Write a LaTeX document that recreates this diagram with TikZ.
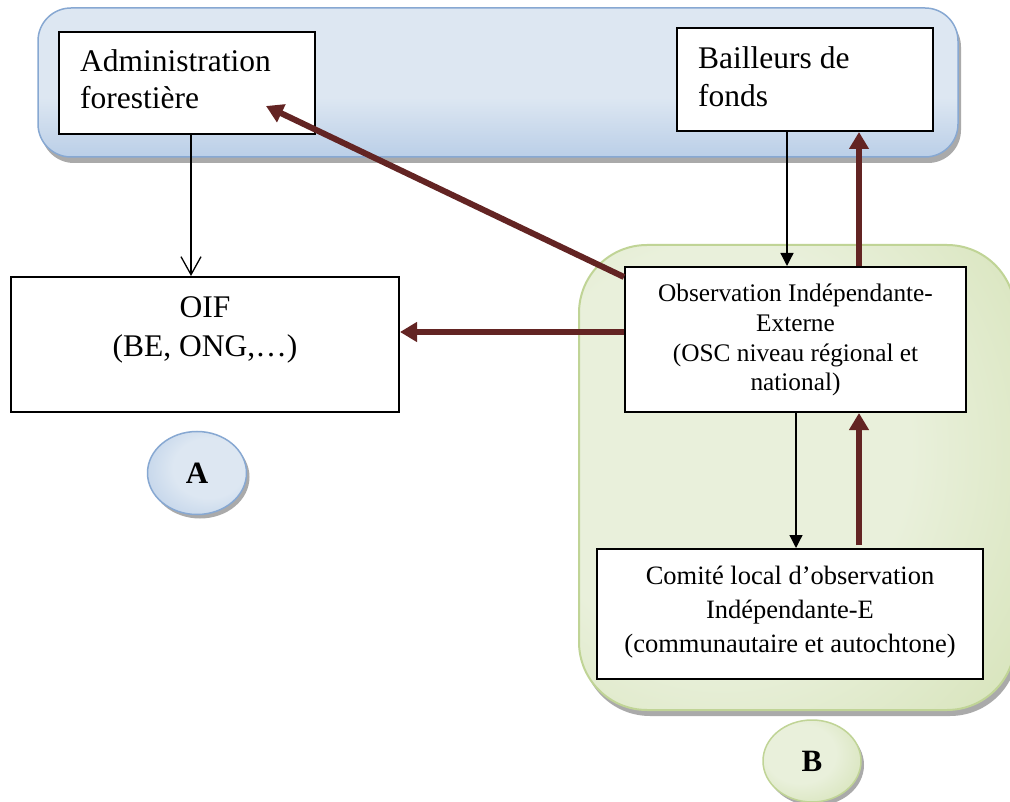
\documentclass[tikz,border=0pt]{standalone}
\usepackage{fontspec}
\setmainfont{Liberation Serif}
\usetikzlibrary{arrows.meta,shapes.geometric,calc}

\definecolor{maroon}{RGB}{99,36,35}
\definecolor{blueedge}{RGB}{135,168,210}
\definecolor{bluelight}{RGB}{221,231,242}
\definecolor{bluemid}{RGB}{163,190,224}
\definecolor{greenedge}{RGB}{192,212,150}
\definecolor{greenlight}{RGB}{233,240,219}
\definecolor{greendark}{RGB}{198,216,156}
\definecolor{shadowgray}{RGB}{170,170,170}

% panel and marker fills
\pgfdeclareverticalshading{bluepanel}{100bp}{color(0bp)=(bluemid); color(20bp)=(bluemid!75!bluelight); color(45bp)=(bluelight); color(75bp)=(bluelight); color(92bp)=(bluemid!60!bluelight); color(100bp)=(bluemid)}
\pgfdeclareradialshading{greenpanel}{\pgfpoint{-12bp}{4bp}}{color(0bp)=(greenlight); color(22bp)=(greenlight); color(60bp)=(greendark); color(90bp)=(greendark)}
\pgfdeclareradialshading{bluedisc}{\pgfpoint{8bp}{4bp}}{color(0bp)=(bluelight); color(18bp)=(bluelight); color(50bp)=(bluemid); color(70bp)=(bluemid)}
\pgfdeclareradialshading{greendisc}{\pgfpoint{-8bp}{6bp}}{color(0bp)=(greenlight); color(18bp)=(greenlight); color(50bp)=(greendark); color(70bp)=(greendark)}

\begin{document}
\begin{tikzpicture}[x=1pt,y=-1pt,
  box/.style={draw=black,line width=2pt,fill=white,inner sep=0pt},
  txt/.style={inner sep=0pt,text=black},
  thinarr/.style={draw=black,line width=1.3pt,-{Triangle[length=13pt,width=13pt]}},
  openarr/.style={draw=black,line width=1.3pt,-{Straight Barb[length=18pt,width=20pt]}},
  redarr/.style={draw=maroon,line width=6pt,-{Triangle[length=17pt,width=19pt]}},
  tag/.style={ellipse,minimum width=99pt,minimum height=83pt,inner sep=0pt,line width=1.5pt,
    font=\fontsize{31}{32}\selectfont\bfseries}
]
\useasboundingbox (0,0) rectangle (1010,802);
\clip (0,0) rectangle (1010,802);
\fill[white] (0,0) rectangle (1010,802);

% upper band
\fill[shadowgray,rounded corners=33pt] (41,14) rectangle (961,163);
\shadedraw[shading=bluepanel,draw=blueedge,line width=1.5pt,rounded corners=33pt] (38,8) rectangle (958,157);

% lower right band
\fill[shadowgray,rounded corners=68pt] (582,251) rectangle (1018,716);
\shadedraw[shading=greenpanel,draw=greenedge,line width=2pt,rounded corners=68pt] (579,245) rectangle (1015,710);

% boxes
\node[box,minimum width=256pt,minimum height=102pt] (admin) at (187,83) {};
\node[box,minimum width=256pt,minimum height=103pt] (bail) at (805,79.5) {};
\node[box,minimum width=388pt,minimum height=135pt] (oif) at (205,344.5) {};
\node[box,minimum width=341pt,minimum height=145pt] (obs) at (795.5,339.5) {};
\node[box,minimum width=386pt,minimum height=130pt] (comite) at (790,614) {};

% box texts
\node[txt,anchor=base west] (admin-t) at (80,72)
  {\parbox[t]{225pt}{\raggedright\fontsize{31.5}{37}\selectfont Administration\\forestière}};
\node[txt,anchor=base west] (bail-t) at (698,69)
  {\parbox[t]{225pt}{\raggedright\fontsize{31.5}{38}\selectfont Bailleurs de\\fonds}};
\node[txt,anchor=base] (oif-t) at (205,318)
  {\parbox[t]{360pt}{\centering\fontsize{31.5}{39}\selectfont OIF\\(BE, ONG,…)}};
\node[txt,anchor=base] (obs-t) at (795.5,301.5)
  {\parbox[t]{330pt}{\centering\fontsize{25.3}{29.8}\selectfont Observation Indépendante-\\Externe\\(OSC niveau régional et\\national)}};
\node[txt,anchor=base] (comite-t) at (790,584)
  {\parbox[t]{380pt}{\centering\fontsize{26.5}{34}\selectfont Comité local d’observation\\Indépendante-E\\(communautaire et autochtone)}};

% connectors
\draw[openarr] ([xshift=4pt]admin.south) -- ([xshift=4pt]admin.south |- oif.north);
\draw[thinarr] ([xshift=-18pt]bail.south) -- ([xshift=-18pt]bail.south |- obs.north);
\draw[redarr] ([xshift=54pt]bail.south |- obs.north) -- ([xshift=54pt]bail.south);
\draw[thinarr] ([xshift=6pt]comite.north |- obs.south) -- ([xshift=6pt]comite.north);
\draw[redarr] ([xshift=69pt,yshift=3pt]comite.north) -- ([xshift=69pt]comite.north |- obs.south);
\coordinate (obsl) at ($(obs.west)+(0,-7.5)$);
\draw[redarr] (obsl) -- (obsl -| oif.east);
\coordinate (obsnw) at ($(obs.north west)+(0,11)$);
\coordinate (admtip) at ($(admin.south east)+(-50,-29)$);
\draw[redarr] (obsnw) -- (admtip);

% group markers
\fill[shadowgray] (200,477) ellipse (49.5 and 41.5);
\node[tag,shading=bluedisc,draw=blueedge] (markA) at (197,473) {A};
\fill[shadowgray] (815,765) ellipse (49 and 41);
\node[tag,shading=greendisc,draw=greenedge,minimum width=98pt,minimum height=82pt] (markB) at (812,761) {B};
\end{tikzpicture}
\end{document}
